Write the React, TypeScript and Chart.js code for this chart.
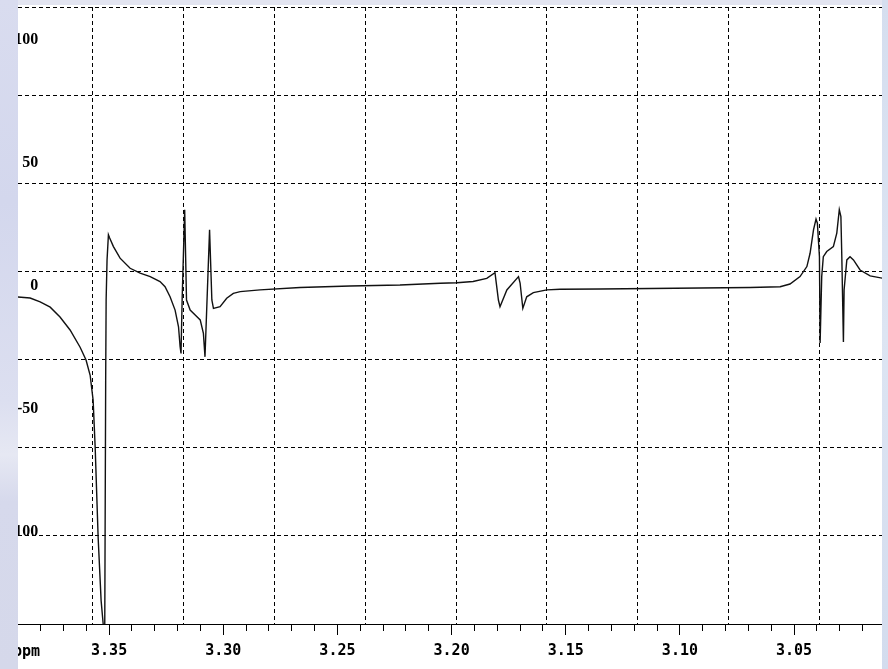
import React, { useEffect, useRef } from "react";
import { Chart, registerables } from "chart.js";

Chart.register(...registerables);

// Chemical shift (ppm) of each trace point, high field on the right
const PPM = [
  3.3905, 3.3846, 3.3802, 3.3758, 3.3715, 3.3671, 3.3627, 3.3601, 3.3583, 3.357,
  3.3561, 3.3548, 3.3535, 3.3526, 3.3522, 3.3518, 3.3515, 3.3513, 3.3509, 3.3503,
  3.3498, 3.3481, 3.3452, 3.3408, 3.3364, 3.332, 3.3277, 3.3255, 3.3233, 3.3211,
  3.3196, 3.3189, 3.3185, 3.318, 3.3169, 3.3161, 3.3145, 3.3123, 3.3101, 3.3087,
  3.308, 3.306, 3.305, 3.3043, 3.3014, 3.2985, 3.2956, 3.2926, 3.2839, 3.2664,
  3.2445, 3.2226, 3.205, 3.1977, 3.1906, 3.1846, 3.181, 3.1795, 3.1788, 3.1758,
  3.1707, 3.17, 3.1688, 3.1671, 3.1642, 3.1583, 3.1525, 3.135, 3.1131, 3.0912,
  3.0693, 3.0561, 3.0518, 3.0474, 3.0444, 3.043, 3.0415, 3.0404, 3.0398, 3.0389,
  3.0386, 3.0379, 3.0372, 3.0357, 3.0328, 3.0313, 3.0302, 3.0295, 3.0291, 3.0284,
  3.0281, 3.0269, 3.0255, 3.024, 3.0211, 3.0167, 3.011,
];

// Signal intensity at each shift
const INTENSITY = [
  -4.4, -4.9, -6.5, -8.6, -12.6, -17.9, -24.9, -30.1, -36.3, -46.4,
  -65.6, -102.2, -127.9, -137.3, -210, -210, -38.3, -5.7, 10.6, 20.8,
  19.6, 16.0, 11.3, 7.2, 5.2, 3.8, 1.8, -0.3, -4.4, -9.8,
  -16.6, -24.7, -27.4, -5.0, 31.0, -5.7, -9.8, -11.8, -13.8, -19.3,
  -28.8, 22.8, -5.7, -9.1, -8.4, -5.0, -3.0, -2.3, -1.6, -0.6,
  0.0, 0.4, 1.1, 1.3, 1.8, 3.1, 5.4, -5.7, -8.4, -1.6,
  3.8, 1.2, -9.1, -4.4, -2.7, -1.6, -1.3, -1.2, -1.0, -0.8,
  -0.6, -0.3, 0.8, 3.8, 7.9, 13.3, 22.8, 27.2, 25.5, 11.9,
  -23.2, 3.8, 11.9, 14.0, 16.0, 21.5, 31.0, 28.2, 11.9, -22.8,
  -1.6, 10.6, 11.9, 10.6, 6.5, 4.1, 3.1,
];

// Labelled shift ticks and their text
const X_MAJOR = [3.35, 3.3, 3.25, 3.2, 3.15, 3.1, 3.05];
const X_LABELS = ["3.35", "3.30", "3.25", "3.20", "3.15", "3.10", "3.05"];
// Minor tick range (hundredths of ppm)
const X_MINOR_FROM = 302;
const X_MINOR_TO = 338;

// Intensity ticks
const Y_TICKS = [100, 50, 0, -50, -100];

// Visible window
const PPM_MIN = 3.0115;
const PPM_MAX = 3.3899;
const INT_MIN = -137.4;
const INT_MAX = 113.4;

// Dashed screen grid (independent of the data axes)
const VGRID = [0, 1, 2, 3, 4, 5, 6, 7, 8];
const VGRID_MIN = -0.8264;
const VGRID_MAX = 8.694;
const HGRID = [0, 1, 2, 3, 4, 5, 6, 7];

const W = 888;
const H = 669;
const MONO = "'DejaVu Sans Mono', monospace";
const X_AXIS_HEIGHT = 36;

const isMajor = (v: number) => X_MAJOR.some((m) => Math.abs(m - v) < 1e-6);

// Keep an axis from reserving space or padding in the layout
const collapse = (scale: any, horizontal: boolean) => {
  if (horizontal) scale.height = 0;
  else scale.width = 0;
  scale.paddingTop = 0;
  scale.paddingBottom = 0;
  scale.paddingLeft = 0;
  scale.paddingRight = 0;
};

export default function App() {
  const ref = useRef<HTMLCanvasElement | null>(null);

  useEffect(() => {
    const canvas = ref.current;
    if (!canvas) return;
    const points = PPM.map((p, i) => ({ x: p, y: INTENSITY[i] }));

    const chart = new Chart(canvas, {
      type: "line",
      data: {
        datasets: [
          {
            data: points,
            borderColor: "#111",
            borderWidth: 1.4,
            pointRadius: 0,
            tension: 0,
            fill: false,
            xAxisID: "x",
            yAxisID: "y",
          },
        ],
      },
      options: {
        animation: false,
        responsive: false,
        devicePixelRatio: 1,
        parsing: false,
        normalized: true,
        layout: { padding: { left: 18, right: 6, top: 7, bottom: H - 624 - X_AXIS_HEIGHT } },
        plugins: { legend: { display: false }, tooltip: { enabled: false } },
        scales: {
          x: {
            type: "linear",
            position: "bottom",
            reverse: true,
            min: PPM_MIN,
            max: PPM_MAX,
            afterBuildTicks: (scale: any) => {
              const t = [];
              for (let i = X_MINOR_FROM; i <= X_MINOR_TO; i++) t.push({ value: i / 100 });
              scale.ticks = t;
            },
            afterFit: (scale: any) => {
              scale.height = X_AXIS_HEIGHT;
              scale.paddingLeft = 0;
              scale.paddingRight = 0;
            },
            grid: {
              display: true,
              drawOnChartArea: false,
              drawTicks: true,
              tickLength: 11,
              tickColor: "#000",
              tickWidth: 1,
              tickBorderDash: (ctx: any) =>
                ctx.tick && isMajor(ctx.tick.value) ? [] : [6, 40],
            },
            border: { display: true, color: "#000", width: 1 },
            ticks: {
              autoSkip: false,
              maxRotation: 0,
              minRotation: 0,
              padding: 7,
              color: "#000",
              font: { family: MONO, size: 15, weight: "bold" },
              callback: (v: any) => {
                const idx = X_MAJOR.findIndex((m) => Math.abs(m - Number(v)) < 1e-6);
                return idx >= 0 ? X_LABELS[idx] : "";
              },
            },
          },
          y: {
            type: "linear",
            position: "left",
            min: INT_MIN,
            max: INT_MAX,
            afterBuildTicks: (scale: any) => {
              scale.ticks = Y_TICKS.map((v) => ({ value: v }));
            },
            afterFit: (scale: any) => collapse(scale, false),
            grid: { display: false },
            border: { display: false },
            ticks: {
              mirror: true,
              crossAlign: "far",
              padding: -9,
              color: "#000",
              font: { family: "'Liberation Serif', serif", size: 16, weight: "bold" },
              callback: (v: any) => String(v),
            },
          },
          gx: {
            type: "linear",
            position: "top",
            min: VGRID_MIN,
            max: VGRID_MAX,
            afterBuildTicks: (scale: any) => {
              scale.ticks = VGRID.map((v) => ({ value: v }));
            },
            afterFit: (scale: any) => collapse(scale, true),
            grid: { display: true, drawOnChartArea: true, drawTicks: false, color: "#000", lineWidth: 1 },
            border: { display: false, dash: [4, 3] },
            ticks: { display: false },
          },
          gy: {
            type: "linear",
            position: "right",
            min: 0,
            max: 7,
            afterBuildTicks: (scale: any) => {
              scale.ticks = HGRID.map((v) => ({ value: v }));
            },
            afterFit: (scale: any) => collapse(scale, false),
            grid: { display: true, drawOnChartArea: true, drawTicks: false, color: "#000", lineWidth: 1 },
            border: { display: false, dash: [4, 3] },
            ticks: { display: false },
          },
        },
      } as any,
    });
    return () => chart.destroy();
  }, []);

  return (
    <div
      style={{
        position: "fixed",
        left: 0,
        top: 0,
        width: W,
        height: H,
        background: "#fff",
        overflow: "hidden",
      }}
    >
      <canvas ref={ref} width={W} height={H} style={{ position: "absolute", left: 0, top: 0, width: W, height: H }} />
      <div
        style={{
          position: "absolute",
          left: 13,
          top: 643,
          font: `bold 15px ${MONO}`,
          lineHeight: "17px",
          color: "#000",
        }}
      >
        ppm
      </div>
      <div
        style={{
          position: "absolute",
          left: 0,
          top: 0,
          width: W,
          height: 5,
          background: "#e3e5f1",
        }}
      />
      <div
        style={{
          position: "absolute",
          left: 0,
          top: 0,
          width: 18,
          height: H,
          background:
            "linear-gradient(180deg, #d9dcef 0%, #d3d7ed 30%, #dcdff0 60%, #e6e8f3 68%, #d6d9ec 75%, #d5d8ea 100%)",
        }}
      />
      <div
        style={{
          position: "absolute",
          left: 882,
          top: 0,
          width: 6,
          height: H,
          background: "linear-gradient(180deg, #d5deef 0%, #dde5f3 50%, #d3dcee 100%)",
        }}
      />
    </div>
  );
}
